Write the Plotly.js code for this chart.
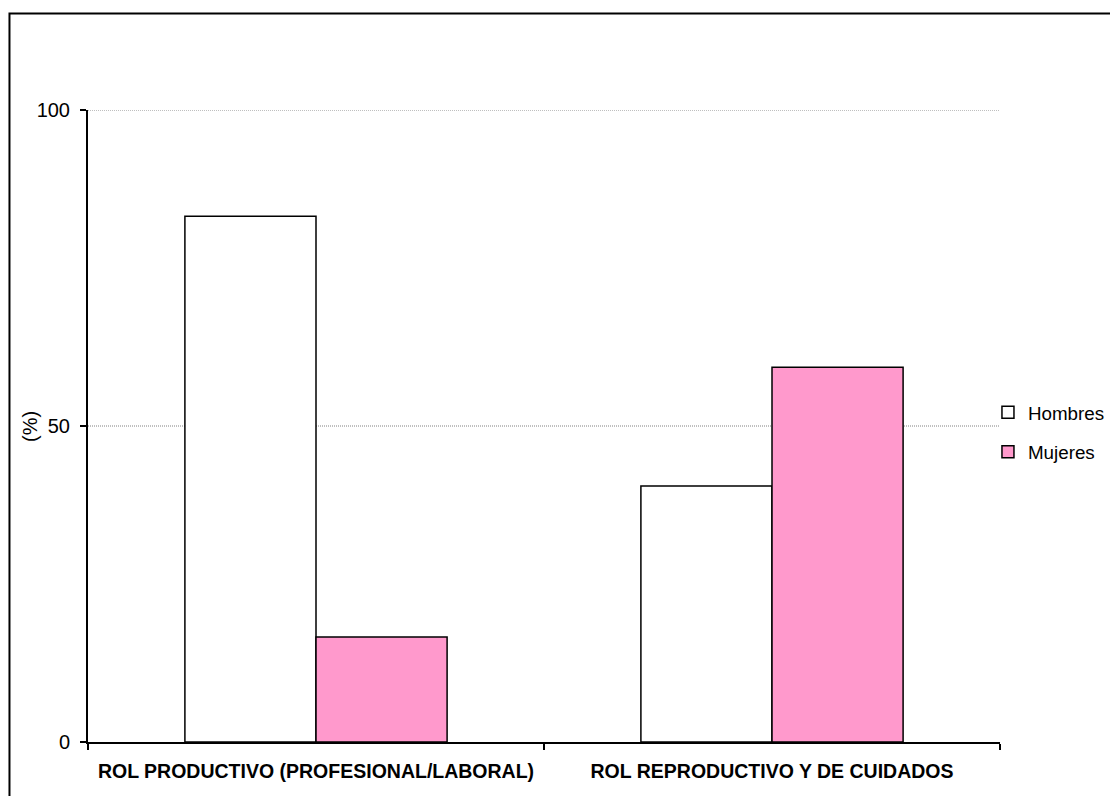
<!DOCTYPE html>
<html>
<head>
<meta charset="utf-8">
<script src="https://cdn.plot.ly/plotly-3.0.1.min.js"></script>
<style>html,body{margin:0;padding:0;background:#fff;}#chart{width:1110px;height:796px;}</style>
</head>
<body>
<div id="chart"></div>
<script>
const categories = ["ROL PRODUCTIVO (PROFESIONAL/LABORAL)", "ROL REPRODUCTIVO Y DE CUIDADOS"];
const hombres = [83.2, 40.5];
const mujeres = [16.6, 59.3];
const yTicks = [0, 50, 100];
const gridValues = [50, 100];
const yTitle = "(%)";

const FONT = "Liberation Sans, Arial, sans-serif";

const data = [
  {type: "bar", name: "Hombres", x: categories, y: hombres, legendgroup: "h",
   marker: {color: "#FFFFFF", line: {color: "#000000", width: 1.5}}},
  {type: "bar", name: "Mujeres", x: categories, y: mujeres, legendgroup: "m",
   marker: {color: "#FF99CC", line: {color: "#000000", width: 1.5}}}
];

const shapes = gridValues.map(v => ({
  type: "line", xref: "paper", yref: "y", x0: 0, x1: 1, y0: v, y1: v,
  line: {color: "#808080", width: 1, dash: "1px,1px"}, layer: "below"
}));
shapes.push({type: "rect", xref: "paper", yref: "paper", x0: -0.0861, x1: 1.2, y0: -0.2, y1: 1.1527,
  line: {color: "#000", width: 2}, fillcolor: "rgba(0,0,0,0)", layer: "above"});

const layout = {
  width: 1110, height: 796,
  margin: {l: 88, r: 110, t: 110, b: 54, autoexpand: false},
  paper_bgcolor: "#FFFFFF", plot_bgcolor: "#FFFFFF",
  font: {family: FONT, color: "#000000", size: 19},
  barmode: "group", bargap: 0.425, bargroupgap: 0,
  showlegend: true,
  legend: {x: 0.9868, xanchor: "left", y: 0.4905, yanchor: "middle", font: {size: 18.8},
           tracegroupgap: 12, itemwidth: 30, bgcolor: "rgba(0,0,0,0)"},
  xaxis: {type: "category", showline: true, linecolor: "#000", linewidth: 2,
          ticks: "outside", tickson: "boundaries", ticklen: 6, tickcolor: "#000", tickwidth: 2,
          ticklabelstandoff: 11,
          tickfont: {size: 19.5, family: FONT, weight: "bold"}, showgrid: false, zeroline: false},
  yaxis: {range: [0, 100], tickvals: yTicks, ticktext: yTicks.map(String),
          showline: true, linecolor: "#000", linewidth: 2,
          ticks: "outside", ticklen: 6, tickcolor: "#000", tickwidth: 2,
          ticklabelstandoff: 6,
          showgrid: false, zeroline: false,
          tickfont: {size: 20}},
  annotations: [
    {text: yTitle, xref: "paper", yref: "paper", x: -0.0636, y: 0.5, xanchor: "center", yanchor: "middle",
     textangle: -90, showarrow: false, font: {size: 20, family: FONT, color: "#000"}}
  ],
  shapes: shapes
};

Plotly.newPlot("chart", data, layout, {displayModeBar: false, staticPlot: true});
</script>
</body>
</html>
